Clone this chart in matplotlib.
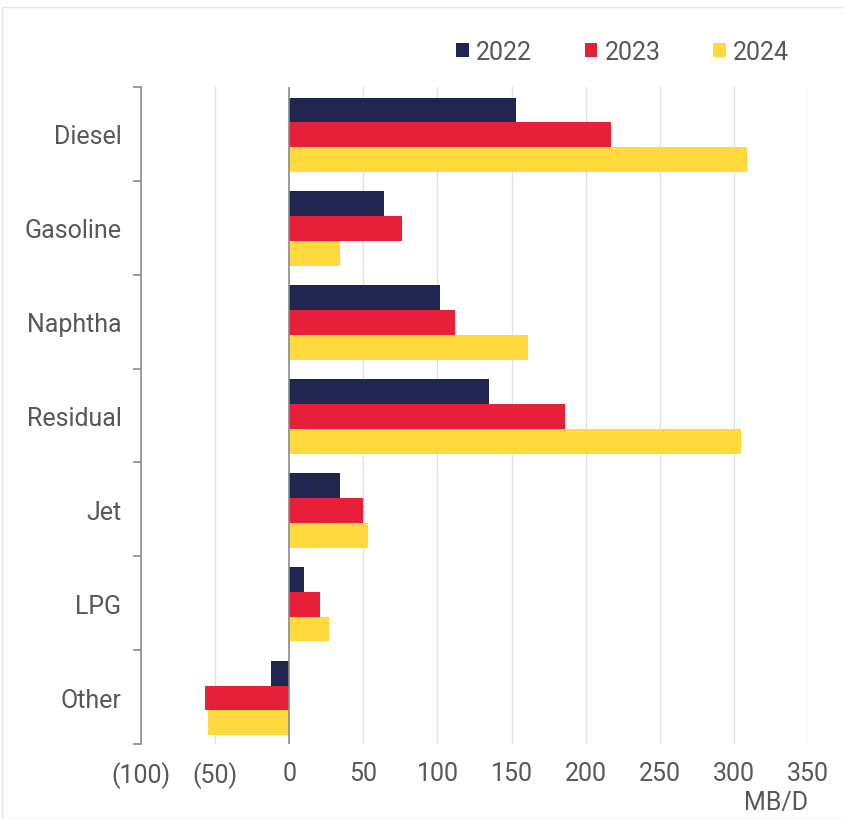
import numpy as np
import matplotlib.pyplot as plt
from matplotlib.patches import Rectangle

########################################################################
# Data

categories = ["Diesel", "Gasoline", "Naphtha", "Residual", "Jet", "LPG", "Other"]
years = ["2022", "2023", "2024"]
v2022 = [153, 64, 102, 135, 34, 10, -12]
v2023 = [217, 76, 112, 186, 50, 21, -57]
v2024 = [309, 34, 161, 305, 53, 27, -55]
xticks = [-100, -50, 0, 50, 100, 150, 200, 250, 300, 350]
xticklabels = ["(100)", "(50)", "0", "50", "100", "150", "200", "250", "300", "350"]

colors = ["#20264f", "#e81f38", "#ffd93d"]
text_col = "#585858"
fs = 18

plt.rcParams['font.family'] = ['Roboto', 'DejaVu Sans']

########################################################################
# Plot

fig = plt.figure(figsize=(8.44, 8.2), dpi=100)
ax = fig.add_axes([141 / 844, 1 - 745 / 820, 667 / 844, 657 / 820])

fig.patches.append(Rectangle((2 / 844, 0), 1, 1 - 8 / 820, transform=fig.transFigure,
                             fill=False, edgecolor="#e4e4e4", lw=1))

n = len(categories)
y = np.arange(n)
h = 0.265
for i, vals in enumerate([v2022, v2023, v2024]):
    ax.barh(y + (i - 1) * h + 0.01, vals, height=h, color=colors[i], label=years[i], zorder=3)

ax.set_xlim(-100, 350)
ax.set_ylim(n - 0.5, -0.5)

for xv in xticks:
    if xv not in (-100, 0):
        ax.axvline(xv, color="#e2e2e2", lw=1, zorder=1)
ax.axvline(0, color="#8a8a8a", lw=1.2, zorder=4)

ax.set_xticks(xticks)
ax.set_xticklabels(xticklabels)
ax.tick_params(axis="x", length=0, pad=12, labelsize=fs, labelcolor=text_col)

# category labels between boundary ticks
ax.set_yticks(np.arange(-0.5, n, 1))
ax.set_yticklabels([])
ax.tick_params(axis="y", which="major", length=6, color="#8a8a8a", width=1.2, direction="out")
ax.set_yticks(y, minor=True)
ax.set_yticklabels(categories, minor=True)
ax.tick_params(axis="y", which="minor", length=0, pad=14, labelsize=fs, labelcolor=text_col)

for s in ["top", "right", "bottom"]:
    ax.spines[s].set_visible(False)
ax.spines["left"].set_color("#8a8a8a")
ax.spines["left"].set_linewidth(1.2)

leg = ax.legend(loc="center right", bbox_to_anchor=(0.972, 1.053), ncol=3, frameon=False,
                fontsize=fs, handlelength=0.5, handleheight=0.5, handletextpad=0.3,
                columnspacing=2.1, borderaxespad=0, borderpad=0)
for t in leg.get_texts():
    t.set_color(text_col)

fig.text(808 / 844, 1 - 803 / 820, "MB/D", ha="right", va="center", fontsize=fs,
         color=text_col)

fig.savefig("out.png", dpi=100)
